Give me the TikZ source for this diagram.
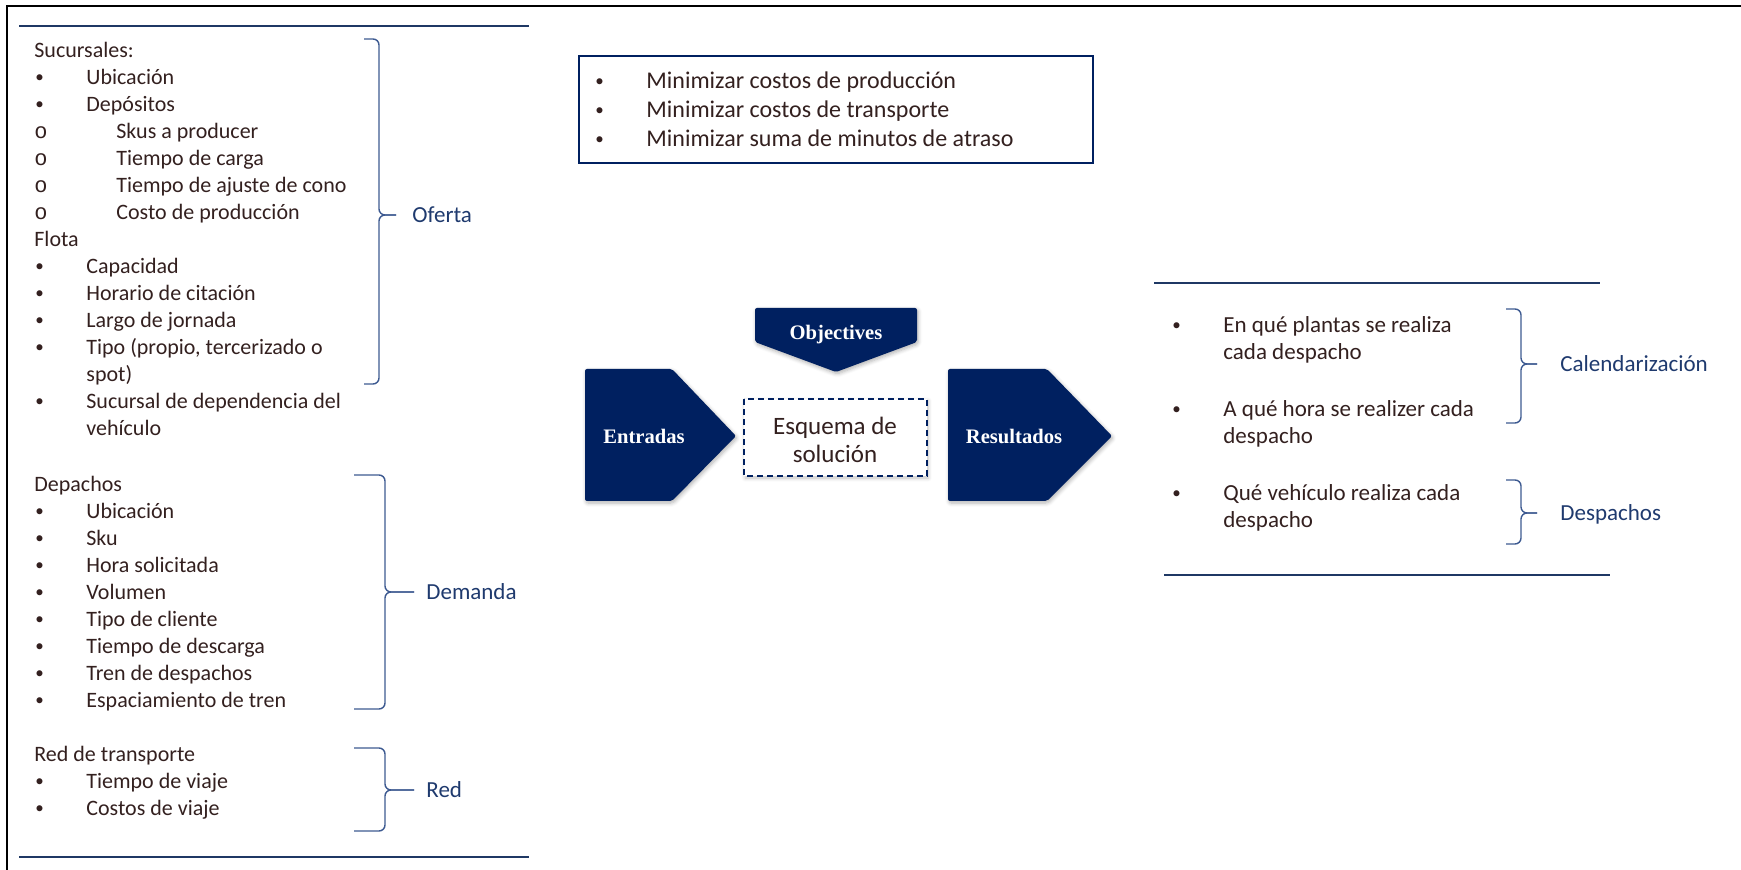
\documentclass[tikz,border=0pt]{standalone}
\usepackage{fontspec}
\setmainfont{Carlito}
\setmonofont{Liberation Mono}
\newfontfamily\chevfont{Liberation Serif}
\usetikzlibrary{positioning,shadows.blur}

\definecolor{navy}{HTML}{002060}
\definecolor{rulecol}{HTML}{1F3864}
\definecolor{bracecol}{HTML}{3D5A91}
\definecolor{lblcol}{HTML}{1F3A6E}
\definecolor{txtcol}{HTML}{33201F}

\newcommand\strt{\rule{0pt}{10pt}}
\newcommand\bul{\makebox[26pt][l]{\hspace*{0.5pt}\raisebox{0.7pt}{\fontsize{8.5}{8}\selectfont\textbullet}}}
\newcommand\circbul{\makebox[41pt][l]{\texttt{o}}}

\begin{document}
\begin{tikzpicture}[x=0.5pt,y=-0.5pt,
	txt/.style={inner sep=0pt,anchor=north west,align=left,text=txtcol,font=\fontsize{11}{13.5}\selectfont},
	lbl/.style={inner sep=0pt,anchor=west,text=lblcol,text height=7.3pt,text depth=0pt,font=\fontsize{11.5}{14}\selectfont},
	chevtxt/.style={inner sep=0pt,text=white,text height=7pt,text depth=0pt,font=\chevfont\bfseries\fontsize{10.3}{12}\selectfont},
	chev/.style={fill=navy,rounded corners=1pt,blur shadow={shadow xshift=0.6pt,shadow yshift=-1pt,shadow blur steps=5,shadow opacity=30}},
	brc/.style={draw=bracecol,line width=0.7pt,rounded corners=3pt},
	hrule/.style={draw=rulecol,line width=1.2pt}]
	\useasboundingbox (0,0) rectangle (1741,870);
	% page frame
	\draw[line width=1.1pt] (7,870) -- (7,6) -- (1741,6);

	% inputs
	\draw[hrule] (19,26) -- (529,26);
	\draw[hrule] (19,857) -- (529,857);
	\node[txt] (sucursales) at (34,37) {\strt Sucursales:\\
		\bul Ubicación\\
		\bul Depósitos\\
		\circbul Skus a producer\\
		\circbul Tiempo de carga\\
		\circbul Tiempo de ajuste de cono\\
		\circbul Costo de producción\\
		Flota\\
		\bul Capacidad\\
		\bul Horario de citación\\
		\bul Largo de jornada\\
		\bul Tipo (propio, tercerizado o\\
		\hspace*{26pt}spot)\\
		\bul Sucursal de dependencia del\\
		\hspace*{26pt}vehículo};
	\node[txt] (depachos) at (34,471) {\strt Depachos\\
		\bul Ubicación\\
		\bul Sku\\
		\bul Hora solicitada\\
		\bul Volumen\\
		\bul Tipo de cliente\\
		\bul Tiempo de descarga\\
		\bul Tren de despachos\\
		\bul Espaciamiento de tren};
	\node[txt] (redlist) at (34,741) {\strt Red de transporte\\
		\bul Tiempo de viaje\\
		\bul Costos de viaje};

	\draw[brc] (364,39) -- (379,39) -- (379,215) -- (396,215);
	\draw[brc] (396,215) -- (379,215) -- (379,384) -- (364,384);
	\node[lbl] (oferta) at (412,215) {Oferta};
	\draw[brc] (354,475) -- (385,475) -- (385,592) -- (414,592);
	\draw[brc] (414,592) -- (385,592) -- (385,709) -- (354,709);
	\node[lbl] (demanda) at (426,592) {Demanda};
	\draw[brc] (354,748) -- (385,748) -- (385,790) -- (414,790);
	\draw[brc] (414,790) -- (385,790) -- (385,831) -- (354,831);
	\node[lbl] (red) at (426,790) {Red};

	% objectives
	\draw[draw=navy,line width=1pt] (579,56) rectangle (1093,163);
	\node[txt,font=\fontsize{12}{14.5}\selectfont] (minlist) at (594,68) {\strt\bul Minimizar costos de producción\\
		\bul Minimizar costos de transporte\\
		\bul Minimizar suma de minutos de atraso};

	% scheme
	\fill[chev] (755,308) -- (917,308) -- (917,342) -- (836,372) -- (755,342) -- cycle;
	\node[chevtxt] (objectives) at (836,333) {Objectives};
	\fill[chev] (585,369) -- (672,369) -- (736,436) -- (672,501) -- (585,501) -- cycle;
	\node[chevtxt] (entradas) at (644,437) {Entradas};
	\fill[chev] (948,369) -- (1047,369) -- (1112,436) -- (1047,501) -- (948,501) -- cycle;
	\node[chevtxt] (resultados) at (1014,437) {Resultados};
	\draw[navy,line width=0.9pt,dash pattern=on 3pt off 2pt,fill=white,
		blur shadow={shadow xshift=0.6pt,shadow yshift=-1pt,shadow blur steps=5,shadow opacity=25}]
		(744,399) rectangle (927,476);
	\node[inner sep=0pt,align=center,text=txtcol,font=\fontsize{12.5}{14}\selectfont] (esquema) at (835,440) {Esquema de\\solución};

	% results
	\draw[hrule] (1154,283) -- (1600,283);
	\draw[hrule] (1164,575) -- (1610,575);
	\node[txt,font=\fontsize{11.5}{13.5}\selectfont] (plantas) at (1171,312) {\strt\bul En qué plantas se realiza\\\hspace*{26pt}cada despacho};
	\node[txt,font=\fontsize{11.5}{13.5}\selectfont] (hora) at (1171,396) {\strt\bul A qué hora se realizer cada\\\hspace*{26pt}despacho};
	\node[txt,font=\fontsize{11.5}{13.5}\selectfont] (vehiculo) at (1171,480) {\strt\bul Qué vehículo realiza cada\\\hspace*{26pt}despacho};

	\draw[brc] (1506,309) -- (1521,309) -- (1521,364) -- (1537,364);
	\draw[brc] (1537,364) -- (1521,364) -- (1521,423) -- (1506,423);
	\node[lbl] (calendarizacion) at (1560,364) {Calendarización};
	\draw[brc] (1506,480) -- (1521,480) -- (1521,513) -- (1537,513);
	\draw[brc] (1537,513) -- (1521,513) -- (1521,544) -- (1506,544);
	\node[lbl] (despachos) at (1560,513) {Despachos};
\end{tikzpicture}
\end{document}
